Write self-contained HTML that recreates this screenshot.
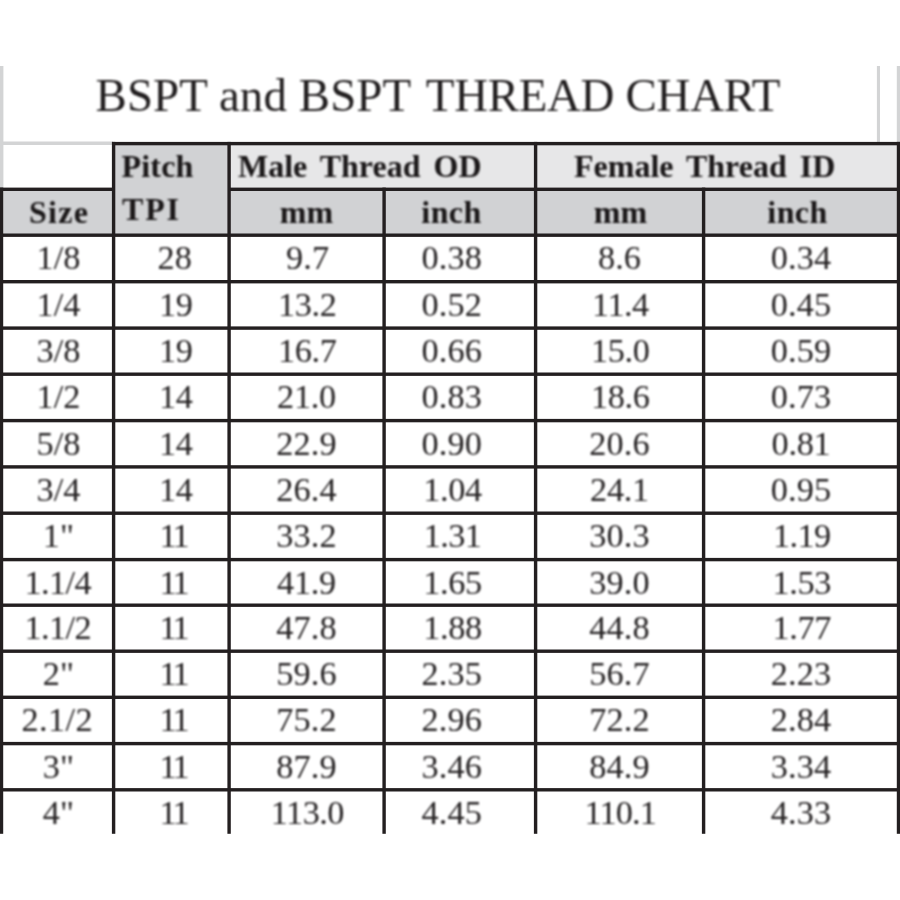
<!DOCTYPE html>
<html lang="en"><head><meta charset="utf-8"><title>BSPT and BSPT THREAD CHART</title>
<style>
html,body{margin:0;padding:0;background:#fff;}
body{width:900px;height:900px;position:relative;overflow:hidden;font-family:"Liberation Serif",serif;color:#1d1a1b;}
#wrap{position:absolute;left:0;top:0;width:900px;height:900px;overflow:hidden;}
.b{position:absolute;}
#txt{position:absolute;left:0;top:0;width:900px;height:900px;filter:blur(0.9px);}
.t{position:absolute;white-space:nowrap;line-height:1;}
.c{text-align:center;}
.h{font-weight:bold;color:#1a1718;}
.d{font-size:34.3px;letter-spacing:0.1px;color:#252223;}
</style></head><body><div id="wrap">
<svg class="b" style="left:0;top:0" width="900" height="900" viewBox="0 0 900 900">
<rect x="0" y="66" width="3.4" height="123" fill="#d3d4d5"/>
<rect x="0" y="141.5" width="113" height="3.5" fill="#d3d4d5"/>
<rect x="876.9" y="66" width="3.1" height="77" fill="#d3d4d5"/>
<rect x="896.8" y="66" width="3.2" height="77" fill="#d3d4d5"/>
<rect x="112" y="142" width="118" height="94" fill="#d1d2d4"/>
<rect x="0" y="188" width="113" height="47" fill="#d1d2d4"/>
<rect x="230" y="142" width="670" height="47" fill="#e7e7e8"/>
<rect x="230" y="189" width="670" height="46" fill="#d1d2d4"/>
<rect x="112" y="141.9" width="788" height="3.4" fill="#231f20"/>
<rect x="0" y="187.6" width="115" height="3.4" fill="#231f20"/>
<rect x="228" y="187.6" width="672" height="3.4" fill="#231f20"/>
<rect x="0" y="233.5" width="900" height="3.4" fill="#231f20"/>
<rect x="0" y="280.0" width="900" height="3.4" fill="#231f20"/>
<rect x="0" y="326.4" width="900" height="3.4" fill="#231f20"/>
<rect x="0" y="372.5" width="900" height="3.4" fill="#231f20"/>
<rect x="0" y="418.9" width="900" height="3.4" fill="#231f20"/>
<rect x="0" y="465.2" width="900" height="3.4" fill="#231f20"/>
<rect x="0" y="511.5" width="900" height="3.4" fill="#231f20"/>
<rect x="0" y="557.9" width="900" height="3.4" fill="#231f20"/>
<rect x="0" y="603.5" width="900" height="3.4" fill="#231f20"/>
<rect x="0" y="649.5" width="900" height="3.4" fill="#231f20"/>
<rect x="0" y="695.6" width="900" height="3.4" fill="#231f20"/>
<rect x="0" y="741.9" width="900" height="3.4" fill="#231f20"/>
<rect x="0" y="788.1" width="900" height="3.4" fill="#231f20"/>
<rect x="-0.2" y="187.6" width="3.4" height="646.2" fill="#231f20"/>
<rect x="111.9" y="141.9" width="3.4" height="691.9" fill="#231f20"/>
<rect x="227.4" y="141.9" width="3.4" height="691.9" fill="#231f20"/>
<rect x="382.4" y="187.6" width="3.4" height="646.2" fill="#231f20"/>
<rect x="533.9" y="141.9" width="3.4" height="691.9" fill="#231f20"/>
<rect x="701.9" y="187.6" width="3.4" height="646.2" fill="#231f20"/>
<rect x="896.8" y="141.9" width="3.4" height="691.9" fill="#231f20"/>
</svg>
<div id="txt">
<div class="t" id="title" style="left:95.5px;top:72.3px;font-size:46.9px;letter-spacing:0.1px;color:#201d1e;">BSPT and BSPT <span style="margin-left:3.6px;letter-spacing:-0.3px;">THREAD CHART</span></div>
<div class="t h" id="pitch" style="left:121.5px;top:149.7px;font-size:32px;letter-spacing:0.2px;">Pitch</div>
<div class="t h" id="tpi" style="left:122px;top:193px;font-size:32px;letter-spacing:1.8px;">TPI</div>
<div class="t h" id="size" style="left:29px;top:195.6px;font-size:32px;letter-spacing:1.3px;">Size</div>
<div class="t h" id="male" style="left:238px;top:149.7px;font-size:32px;word-spacing:5px;">Male Thread OD</div>
<div class="t h" id="female" style="left:574px;top:149.7px;font-size:32px;word-spacing:5px;">Female Thread ID</div>
<div class="t c h" id="mm1" style="left:230.5px;width:152.0px;top:196px;font-size:32px;">mm</div>
<div class="t c h" id="in1" style="left:377px;width:149px;top:196px;font-size:32px;letter-spacing:0.4px;">inch</div>
<div class="t c h" id="mm2" style="left:538px;width:165px;top:196px;font-size:32px;">mm</div>
<div class="t c h" id="in2" style="left:701.5px;width:192.0px;top:196px;font-size:32px;letter-spacing:0.4px;">inch</div>
<div class="t c d" id="r0c0" style="left:4px;width:109px;top:240.2px;">1/8</div>
<div class="t c d" id="r0c1" style="left:118.5px;width:112.5px;top:240.2px;">28</div>
<div class="t c d" id="r0c2" style="left:231.7px;width:152.0px;top:240.2px;">9.7</div>
<div class="t c d" id="r0c3" style="left:377.5px;width:148.5px;top:240.2px;">0.38</div>
<div class="t c d" id="r0c4" style="left:537px;width:165px;top:240.2px;">8.6</div>
<div class="t c d" id="r0c5" style="left:705px;width:192px;top:240.2px;">0.34</div>
<div class="t c d" id="r1c0" style="left:4px;width:109px;top:286.7px;">1/4</div>
<div class="t c d" id="r1c1" style="left:119.4px;width:112.5px;top:286.7px;letter-spacing:-0.6px;">19</div>
<div class="t c d" id="r1c2" style="left:231.3px;width:152.0px;top:286.7px;letter-spacing:-0.3px;">13.2</div>
<div class="t c d" id="r1c3" style="left:377.5px;width:148.5px;top:286.7px;">0.52</div>
<div class="t c d" id="r1c4" style="left:537.8px;width:165px;top:286.7px;letter-spacing:-0.6px;">11.4</div>
<div class="t c d" id="r1c5" style="left:705px;width:192px;top:286.7px;">0.45</div>
<div class="t c d" id="r2c0" style="left:4px;width:109px;top:333.1px;">3/8</div>
<div class="t c d" id="r2c1" style="left:119.4px;width:112.5px;top:333.1px;letter-spacing:-0.6px;">19</div>
<div class="t c d" id="r2c2" style="left:231.3px;width:152.0px;top:333.1px;letter-spacing:-0.3px;">16.7</div>
<div class="t c d" id="r2c3" style="left:377.5px;width:148.5px;top:333.1px;">0.66</div>
<div class="t c d" id="r2c4" style="left:537.8px;width:165px;top:333.1px;letter-spacing:-0.3px;">15.0</div>
<div class="t c d" id="r2c5" style="left:705px;width:192px;top:333.1px;">0.59</div>
<div class="t c d" id="r3c0" style="left:4px;width:109px;top:379.2px;">1/2</div>
<div class="t c d" id="r3c1" style="left:119.4px;width:112.5px;top:379.2px;letter-spacing:-0.6px;">14</div>
<div class="t c d" id="r3c2" style="left:230.5px;width:152.0px;top:379.2px;letter-spacing:-0.3px;">21.0</div>
<div class="t c d" id="r3c3" style="left:377.5px;width:148.5px;top:379.2px;">0.83</div>
<div class="t c d" id="r3c4" style="left:537.8px;width:165px;top:379.2px;letter-spacing:-0.3px;">18.6</div>
<div class="t c d" id="r3c5" style="left:705px;width:192px;top:379.2px;">0.73</div>
<div class="t c d" id="r4c0" style="left:4px;width:109px;top:425.6px;">5/8</div>
<div class="t c d" id="r4c1" style="left:119.4px;width:112.5px;top:425.6px;letter-spacing:-0.6px;">14</div>
<div class="t c d" id="r4c2" style="left:230.5px;width:152.0px;top:425.6px;">22.9</div>
<div class="t c d" id="r4c3" style="left:377.5px;width:148.5px;top:425.6px;">0.90</div>
<div class="t c d" id="r4c4" style="left:537px;width:165px;top:425.6px;">20.6</div>
<div class="t c d" id="r4c5" style="left:705.0px;width:192px;top:425.6px;letter-spacing:-0.3px;">0.81</div>
<div class="t c d" id="r5c0" style="left:4px;width:109px;top:471.9px;">3/4</div>
<div class="t c d" id="r5c1" style="left:119.4px;width:112.5px;top:471.9px;letter-spacing:-0.6px;">14</div>
<div class="t c d" id="r5c2" style="left:230.5px;width:152.0px;top:471.9px;">26.4</div>
<div class="t c d" id="r5c3" style="left:378.3px;width:148.5px;top:471.9px;letter-spacing:-0.3px;">1.04</div>
<div class="t c d" id="r5c4" style="left:537.0px;width:165px;top:471.9px;letter-spacing:-0.3px;">24.1</div>
<div class="t c d" id="r5c5" style="left:705px;width:192px;top:471.9px;">0.95</div>
<div class="t c d" id="r6c0" style="left:4px;width:109px;top:518.2px;">1&quot;</div>
<div class="t c d" id="r6c1" style="left:116.8px;width:112.5px;top:518.2px;letter-spacing:-3px;">11</div>
<div class="t c d" id="r6c2" style="left:230.5px;width:152.0px;top:518.2px;">33.2</div>
<div class="t c d" id="r6c3" style="left:378.3px;width:148.5px;top:518.2px;letter-spacing:-0.6px;">1.31</div>
<div class="t c d" id="r6c4" style="left:537px;width:165px;top:518.2px;">30.3</div>
<div class="t c d" id="r6c5" style="left:705.8px;width:192px;top:518.2px;letter-spacing:-0.6px;">1.19</div>
<div class="t c d" id="r7c0" style="left:3.2px;width:109px;top:564.6px;letter-spacing:-0.6px;">1.1/4</div>
<div class="t c d" id="r7c1" style="left:116.8px;width:112.5px;top:564.6px;letter-spacing:-3px;">11</div>
<div class="t c d" id="r7c2" style="left:230.5px;width:152.0px;top:564.6px;letter-spacing:-0.3px;">41.9</div>
<div class="t c d" id="r7c3" style="left:378.3px;width:148.5px;top:564.6px;letter-spacing:-0.3px;">1.65</div>
<div class="t c d" id="r7c4" style="left:537px;width:165px;top:564.6px;">39.0</div>
<div class="t c d" id="r7c5" style="left:705.8px;width:192px;top:564.6px;letter-spacing:-0.3px;">1.53</div>
<div class="t c d" id="r8c0" style="left:3.2px;width:109px;top:610.2px;letter-spacing:-0.6px;">1.1/2</div>
<div class="t c d" id="r8c1" style="left:116.8px;width:112.5px;top:610.2px;letter-spacing:-3px;">11</div>
<div class="t c d" id="r8c2" style="left:230.5px;width:152.0px;top:610.2px;">47.8</div>
<div class="t c d" id="r8c3" style="left:378.3px;width:148.5px;top:610.2px;letter-spacing:-0.3px;">1.88</div>
<div class="t c d" id="r8c4" style="left:537px;width:165px;top:610.2px;">44.8</div>
<div class="t c d" id="r8c5" style="left:705.8px;width:192px;top:610.2px;letter-spacing:-0.3px;">1.77</div>
<div class="t c d" id="r9c0" style="left:4px;width:109px;top:656.2px;">2&quot;</div>
<div class="t c d" id="r9c1" style="left:116.8px;width:112.5px;top:656.2px;letter-spacing:-3px;">11</div>
<div class="t c d" id="r9c2" style="left:230.5px;width:152.0px;top:656.2px;">59.6</div>
<div class="t c d" id="r9c3" style="left:377.5px;width:148.5px;top:656.2px;">2.35</div>
<div class="t c d" id="r9c4" style="left:537px;width:165px;top:656.2px;">56.7</div>
<div class="t c d" id="r9c5" style="left:705px;width:192px;top:656.2px;">2.23</div>
<div class="t c d" id="r10c0" style="left:2.8px;width:109px;top:702.3px;letter-spacing:0.4px;">2.1/2</div>
<div class="t c d" id="r10c1" style="left:116.8px;width:112.5px;top:702.3px;letter-spacing:-3px;">11</div>
<div class="t c d" id="r10c2" style="left:230.5px;width:152.0px;top:702.3px;">75.2</div>
<div class="t c d" id="r10c3" style="left:377.5px;width:148.5px;top:702.3px;">2.96</div>
<div class="t c d" id="r10c4" style="left:537px;width:165px;top:702.3px;">72.2</div>
<div class="t c d" id="r10c5" style="left:705px;width:192px;top:702.3px;">2.84</div>
<div class="t c d" id="r11c0" style="left:4px;width:109px;top:748.6px;">3&quot;</div>
<div class="t c d" id="r11c1" style="left:116.8px;width:112.5px;top:748.6px;letter-spacing:-3px;">11</div>
<div class="t c d" id="r11c2" style="left:230.5px;width:152.0px;top:748.6px;">87.9</div>
<div class="t c d" id="r11c3" style="left:377.5px;width:148.5px;top:748.6px;">3.46</div>
<div class="t c d" id="r11c4" style="left:537px;width:165px;top:748.6px;">84.9</div>
<div class="t c d" id="r11c5" style="left:705px;width:192px;top:748.6px;">3.34</div>
<div class="t c d" id="r12c0" style="left:4px;width:109px;top:794.8px;">4&quot;</div>
<div class="t c d" id="r12c1" style="left:116.8px;width:112.5px;top:794.8px;letter-spacing:-3px;">11</div>
<div class="t c d" id="r12c2" style="left:231.3px;width:152.0px;top:794.8px;letter-spacing:-0.6px;">113.0</div>
<div class="t c d" id="r12c3" style="left:377.5px;width:148.5px;top:794.8px;">4.45</div>
<div class="t c d" id="r12c4" style="left:537.8px;width:165px;top:794.8px;letter-spacing:-0.9px;">110.1</div>
<div class="t c d" id="r12c5" style="left:705px;width:192px;top:794.8px;">4.33</div>
</div>
</div></body></html>
